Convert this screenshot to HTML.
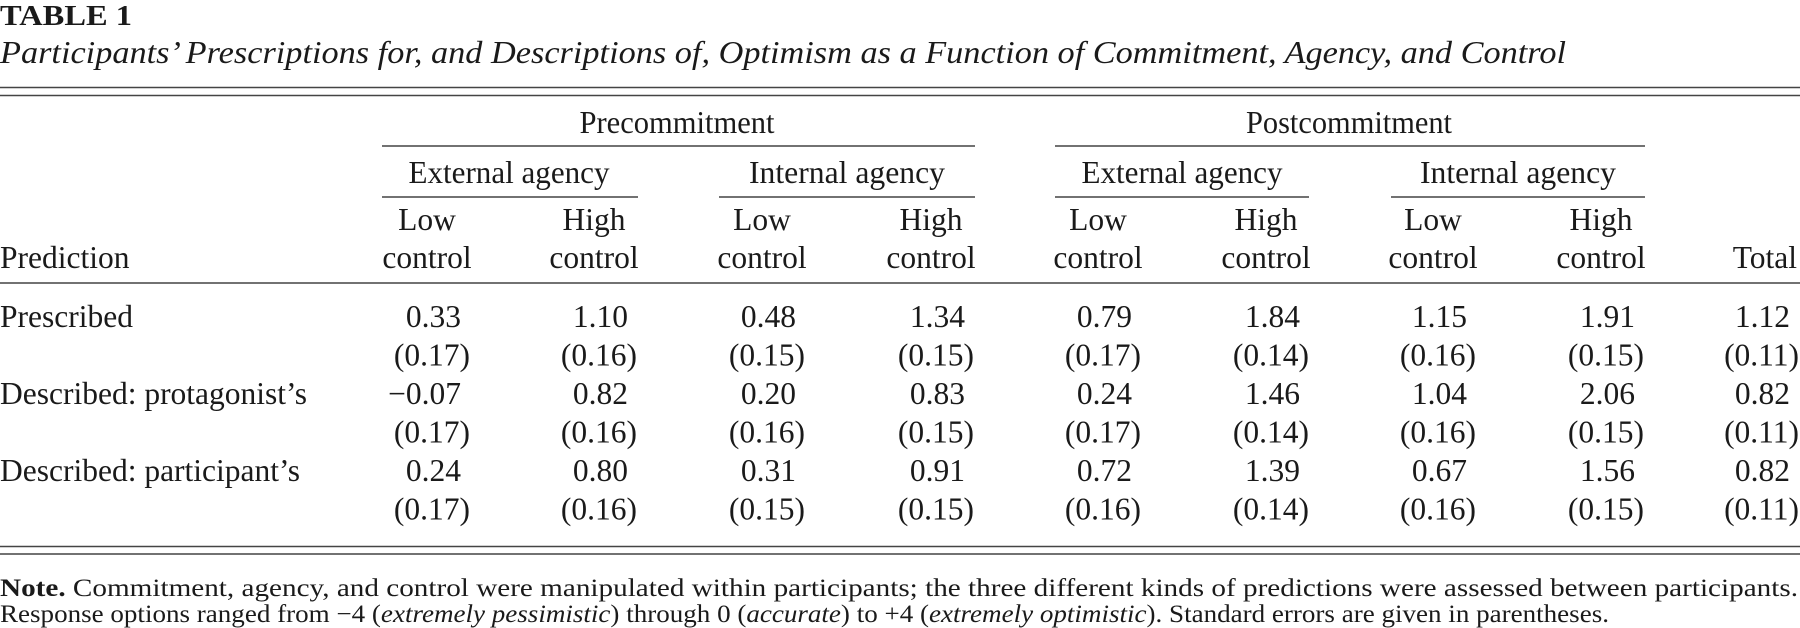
<!DOCTYPE html>
<html><head><meta charset="utf-8"><style>
html,body{margin:0;padding:0;background:#fff;width:1800px;height:628px;overflow:hidden}
svg{display:block}
text{font-family:"Liberation Serif",serif;fill:#1a1a1a}
</style></head><body>
<svg id="t" width="1800" height="628" viewBox="0 0 1800 628" xmlns="http://www.w3.org/2000/svg">
<text x="0" y="25" font-size="29" font-weight="bold" textLength="132" lengthAdjust="spacingAndGlyphs">TABLE 1</text>
<text x="0" y="63" font-size="32" font-style="italic" textLength="1566" lengthAdjust="spacingAndGlyphs">Participants’ Prescriptions for, and Descriptions of, Optimism as a Function of Commitment, Agency, and Control</text>
<g stroke="#444" stroke-width="1.6">
<line x1="0" y1="87.5" x2="1800" y2="87.5"/>
<line x1="0" y1="95.5" x2="1800" y2="95.5"/>
<line x1="382" y1="146" x2="975" y2="146"/>
<line x1="1055" y1="146" x2="1645" y2="146"/>
<line x1="382" y1="197" x2="638" y2="197"/>
<line x1="719" y1="197" x2="975" y2="197"/>
<line x1="1055" y1="197" x2="1309" y2="197"/>
<line x1="1391" y1="197" x2="1645" y2="197"/>
<line x1="0" y1="283" x2="1800" y2="283"/>
<line x1="0" y1="546.5" x2="1800" y2="546.5"/>
<line x1="0" y1="554" x2="1800" y2="554"/>
</g>
<text x="677" y="133" font-size="32" text-anchor="middle" textLength="195" lengthAdjust="spacingAndGlyphs">Precommitment</text>
<text x="1349" y="133" font-size="32" text-anchor="middle" textLength="206" lengthAdjust="spacingAndGlyphs">Postcommitment</text>
<text x="509" y="183" font-size="32" text-anchor="middle" textLength="201" lengthAdjust="spacingAndGlyphs">External agency</text>
<text x="847" y="183" font-size="32" text-anchor="middle" textLength="196" lengthAdjust="spacingAndGlyphs">Internal agency</text>
<text x="1182" y="183" font-size="32" text-anchor="middle" textLength="201" lengthAdjust="spacingAndGlyphs">External agency</text>
<text x="1518" y="183" font-size="32" text-anchor="middle" textLength="196" lengthAdjust="spacingAndGlyphs">Internal agency</text>
<text x="0" y="268" font-size="31.5">Prediction</text>
<text x="1797" y="268" font-size="31.5" text-anchor="end">Total</text>
<g id="body"></g>
<text x="0" y="596" font-size="25" textLength="1798" lengthAdjust="spacingAndGlyphs"><tspan font-weight="bold">Note.</tspan> Commitment, agency, and control were manipulated within participants; the three different kinds of predictions were assessed between participants.</text>
<text x="0" y="622" font-size="25" textLength="1609" lengthAdjust="spacingAndGlyphs">Response options ranged from −4 (<tspan font-style="italic">extremely pessimistic</tspan>) through 0 (<tspan font-style="italic">accurate</tspan>) to +4 (<tspan font-style="italic">extremely optimistic</tspan>). Standard errors are given in parentheses.</text>
</svg>
<script>
const colCenters=[427,594,762,931,1098,1266,1433,1601];
const ctrlLevels=["Low","High","Low","High","Low","High","Low","High"];
const rowLabels=["Prescribed","Described: protagonist’s","Described: participant’s"];
const means=[["0.33","1.10","0.48","1.34","0.79","1.84","1.15","1.91","1.12"],
["−0.07","0.82","0.20","0.83","0.24","1.46","1.04","2.06","0.82"],
["0.24","0.80","0.31","0.91","0.72","1.39","0.67","1.56","0.82"]];
const ses=[["0.17","0.16","0.15","0.15","0.17","0.14","0.16","0.15","0.11"],
["0.17","0.16","0.16","0.15","0.17","0.14","0.16","0.15","0.11"],
["0.17","0.16","0.15","0.15","0.16","0.14","0.16","0.15","0.11"]];
const NS="http://www.w3.org/2000/svg";
const g=document.getElementById('body');
function txt(x,y,s,anchor){const t=document.createElementNS(NS,'text');t.setAttribute('x',x);t.setAttribute('y',y);t.setAttribute('font-size','31.5');if(anchor)t.setAttribute('text-anchor',anchor);t.textContent=s;g.appendChild(t);return t;}
colCenters.forEach((c,i)=>{
  const a=txt(c,230,ctrlLevels[i],'middle');
  
  
  const b=txt(c,268,'control','middle');
  
  
});
const xs=colCenters.concat([1756]);
rowLabels.forEach((lab,r)=>{
  const y=327+r*77;
  const l=txt(0,y,lab);
  
  
  xs.forEach((c,i)=>{
    const m=txt(c+34,y,means[r][i],'end');
    
    
    const s=txt(c+43,y+38.5,'('+ses[r][i]+')','end');
    
    
  });
});
</script>
</body></html>
